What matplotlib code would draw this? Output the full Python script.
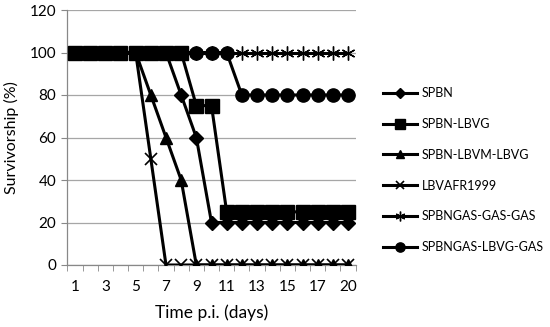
import matplotlib
matplotlib.use("Agg")
import matplotlib.pyplot as plt
import numpy as np

plt.rcParams['font.family'] = ['Lato', 'DejaVu Sans']

# days post infection (category axis, note 19 is missing)
days = [1, 2, 3, 4, 5, 6, 7, 8, 9, 10, 11, 12, 13, 14, 15, 16, 17, 18, 20]

spbn = [100, 100, 100, 100, 100, 100, 100, 80, 60, 20, 20, 20, 20, 20, 20, 20, 20, 20, 20]
spbn_lbvg = [100, 100, 100, 100, 100, 100, 100, 100, 75, 75, 25, 25, 25, 25, 25, 25, 25, 25, 25]
spbn_lbvm_lbvg = [100, 100, 100, 100, 100, 80, 60, 40, 0, 0, 0, 0, 0, 0, 0, 0, 0, 0, 0]
lbvafr1999 = [100, 100, 100, 100, 100, 50, 0, 0, 0, 0, 0, 0, 0, 0, 0, 0, 0, 0, 0]
gas_gas_gas = [100] * 19
gas_lbvg_gas = [100, 100, 100, 100, 100, 100, 100, 100, 100, 100, 100, 80, 80, 80, 80, 80, 80, 80, 80]

names = ['SPBN', 'SPBN-LBVG', 'SPBN-LBVM-LBVG', 'LBVAFR1999',
         'SPBNGAS-GAS-GAS', 'SPBNGAS-LBVG-GAS']
series = [spbn, spbn_lbvg, spbn_lbvm_lbvg, lbvafr1999, gas_gas_gas, gas_lbvg_gas]
styles = [dict(marker='D', ms=7.5),
          dict(marker='s', ms=9.5),
          dict(marker='^', ms=9),
          dict(marker='x', ms=9, mew=1.2),
          dict(marker=(6, 2, 0), ms=10, mew=1.0),
          dict(marker='o', ms=9.5)]

fig = plt.figure(figsize=(5.5, 3.27), dpi=100)
ax = fig.add_axes([67.4 / 550, 1 - 265 / 327, (355.6 - 67.4) / 550, (265 - 10) / 327])

x = np.arange(len(days))
handles = []
n = len(series)
for i, (name, vals, st) in enumerate(zip(names, series, styles)):
    h, = ax.plot(x, vals, color='black', lw=2.2, label=name,
                 zorder=10 + (n - i), **st)
    handles.append(h)

ax.set_xlim(-0.5, len(days) - 0.5)
ax.set_ylim(0, 120)
ax.set_yticks(range(0, 121, 20))
ax.yaxis.grid(True, color='#a6a6a6', lw=0.9)
ax.set_axisbelow(True)

ax.set_xticks(x[::2][:-1].tolist() + [x[-1]])
ax.set_xticklabels([str(days[i]) for i in x[::2][:-1]] + [str(days[-1])])
ax.set_xticks(np.arange(-0.5, len(days), 1), minor=True)
ax.tick_params(axis='x', which='major', length=0, pad=11, labelsize=11)
ax.tick_params(axis='x', which='minor', length=4, color='#888888', direction='out')
ax.tick_params(axis='y', length=4, color='#888888', labelsize=11, pad=4)

for s in ['top', 'right']:
    ax.spines[s].set_visible(False)
for s in ['left', 'bottom']:
    ax.spines[s].set_color('#888888')
    ax.spines[s].set_linewidth(0.9)

ax.set_ylabel('Survivorship (%)', fontsize=11.5, labelpad=8)
ax.set_xlabel('Time p.i. (days)', fontsize=12.5, labelpad=7)

leg = fig.legend(handles=handles, loc='upper left', bbox_to_anchor=(372 / 550, 1 - 76 / 327),
                 frameon=False, markerscale=0.7, fontsize=9.0, handlelength=2.7,
                 labelspacing=1.5, handletextpad=0.4)

fig.savefig('out.png', dpi=100)
